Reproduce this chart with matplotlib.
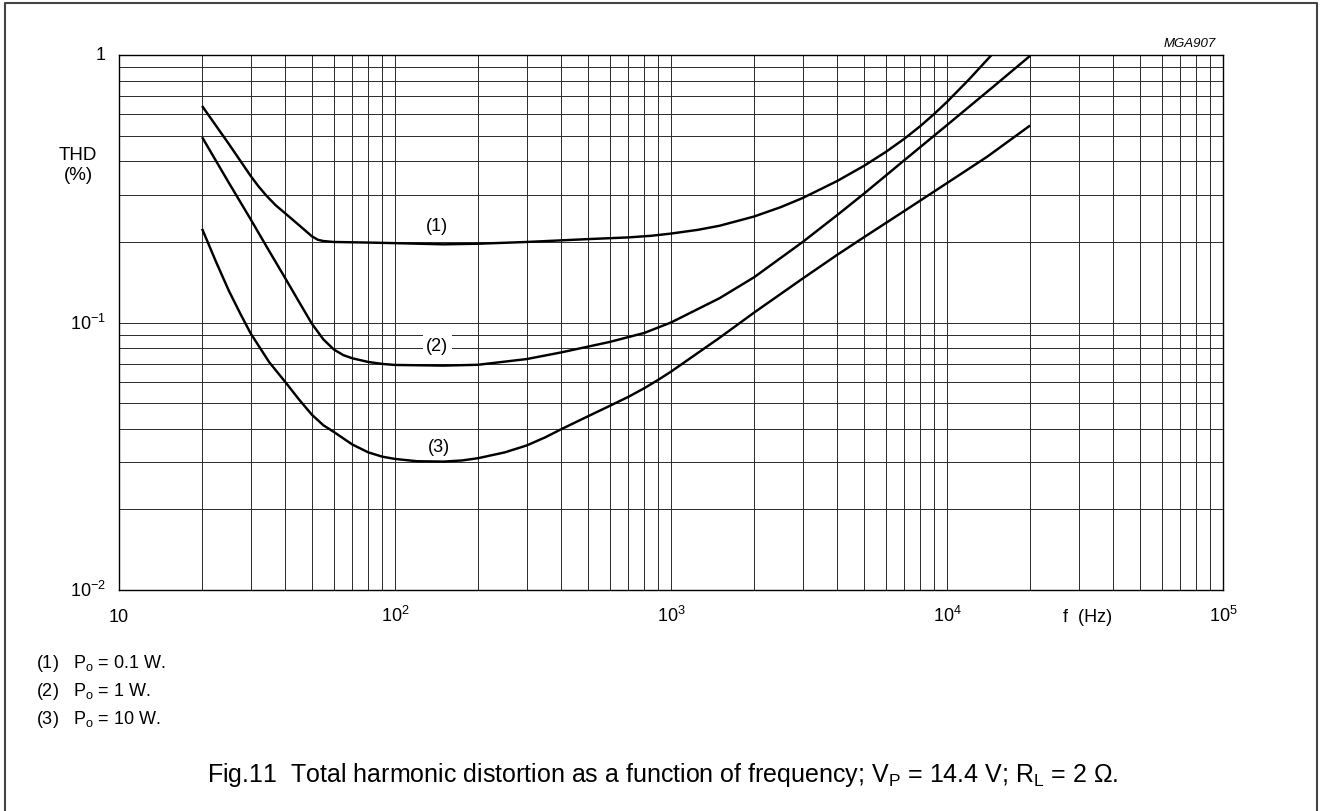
import matplotlib
matplotlib.use('Agg')
import matplotlib.pyplot as plt
from matplotlib.lines import Line2D

plt.rcParams['font.family'] = ['Liberation Sans', 'DejaVu Sans']
plt.rcParams['mathtext.fontset'] = 'custom'
plt.rcParams['mathtext.rm'] = 'Liberation Sans'
plt.rcParams['mathtext.it'] = 'Liberation Sans:italic'

# curve (1) Po = 0.1 W
f1 = [20, 25, 30, 32, 34.3, 37, 40, 45, 50, 52.5, 55, 60, 80, 100, 150, 200, 300, 500,
      700, 850, 1000, 1250, 1500, 2000, 2500, 3000, 4000, 5000, 6000, 7000, 8000, 9000,
      10000, 12000, 14500]
thd1 = [0.645, 0.465, 0.353, 0.323, 0.297, 0.274, 0.256, 0.2307, 0.210, 0.2039, 0.2016,
        0.2, 0.199, 0.198, 0.196, 0.197, 0.2, 0.205, 0.208, 0.211, 0.215, 0.222, 0.230,
        0.249, 0.270, 0.292, 0.338, 0.385, 0.434, 0.486, 0.542, 0.603, 0.668, 0.809, 1.0]

# curve (2) Po = 1 W
f2 = [20, 25, 30, 35, 40, 45, 50, 55, 60, 65, 70, 80, 90, 100, 150, 200, 300, 400,
      600, 800, 1000, 1500, 2000, 3000, 4000, 5000, 7000, 10000, 15000, 20000]
thd2 = [0.493, 0.333, 0.243, 0.185, 0.1466, 0.119, 0.0989, 0.0865, 0.0793, 0.0755,
        0.0735, 0.0712, 0.0700, 0.0694, 0.0690, 0.0695, 0.073, 0.0773, 0.0846, 0.0914,
        0.1, 0.1233, 0.1476, 0.2, 0.252, 0.303, 0.404, 0.547, 0.774, 0.993]

# curve (3) Po = 10 W
f3 = [20, 22.5, 25, 27.5, 30, 35, 40, 45, 50, 55, 60, 70, 80, 90, 100, 120, 150, 175,
      200, 250, 300, 350, 400, 500, 600, 700, 800, 900, 1000, 1500, 2000, 3000, 4000,
      5000, 7000, 10000, 14000, 20000]
thd3 = [0.224, 0.168, 0.1315, 0.108, 0.091, 0.0711, 0.0600, 0.0514, 0.0452, 0.0413,
        0.039, 0.035, 0.0327, 0.0315, 0.0309, 0.0303, 0.0302, 0.0305, 0.0311, 0.0327,
        0.0347, 0.0372, 0.0399, 0.0446, 0.0488, 0.0527, 0.0568, 0.0611, 0.0655, 0.0877,
        0.1089, 0.146, 0.179, 0.2083, 0.261, 0.332, 0.417, 0.545]

curve_labels = ['(1)', '(2)', '(3)']
label_pos = [(142, 0.2296), (142, 0.0817), (144, 0.0345)]

xtick_vals = [10, 100, 1000, 10000, 100000]
xtick_text = ['10', r'$\mathregular{10^2}$', r'$\mathregular{10^3}$',
              r'$\mathregular{10^4}$', r'$\mathregular{10^5}$']
ytick_vals = [1, 0.1, 0.01]
ytick_text = ['1', r'$\mathregular{10^{-1}}$', r'$\mathregular{10^{-2}}$']

notes = [r'(1)   P$_\mathregular{o}$ = 0.1 W.',
         r'(2)   P$_\mathregular{o}$ = 1 W.',
         r'(3)   P$_\mathregular{o}$ = 10 W.']
caption = (r'Fig.11  Total harmonic distortion as a function of frequency; '
           r'V$_\mathregular{P}$ = 14.4 V; R$_\mathregular{L}$ = 2 $\Omega$.')

W, H = 1326, 812
fig = plt.figure(figsize=(W / 100, H / 100), dpi=100)
ax = fig.add_axes([119 / W, 1 - 591 / H, (1223 - 119) / W, (591 - 56) / H])
ax.set_xscale('log')
ax.set_yscale('log')
ax.set_xlim(10, 1e5)
ax.set_ylim(0.01, 1)

# grid at every integer multiple in each decade
gc = '#2a2a2a'
for d in [10, 100, 1000, 10000]:
    for m in range(1, 10):
        ax.axvline(d * m, color=gc, lw=0.7, zorder=1)
for d in [0.01, 0.1]:
    for m in range(1, 10):
        ax.axhline(d * m, color=gc, lw=0.7, zorder=1)

for f, t in [(f1, thd1), (f2, thd2), (f3, thd3)]:
    ax.plot(f, t, color='black', lw=1.75, solid_capstyle='butt',
            solid_joinstyle='round', zorder=3)

for lab, (x, y) in zip(curve_labels, label_pos):
    ax.text(x, y, lab, ha='center', va='center', fontsize=13, zorder=4,
            bbox=dict(facecolor='white', edgecolor='none', pad=2.5))

ax.set_xticks([])
ax.set_yticks([])
ax.minorticks_off()
for s in ax.spines.values():
    s.set_linewidth(1.0)

xt = ax.get_xaxis_transform()
for v, t in zip(xtick_vals, xtick_text):
    ax.text(v, -0.058, t, transform=xt, ha='center', va='baseline', fontsize=13)
ax.text(10 ** 4.51, -0.058, 'f  (Hz)', transform=xt, ha='center', va='baseline', fontsize=13)

yt = ax.get_yaxis_transform()
for v, t in zip(ytick_vals, ytick_text):
    ax.text(-0.012, v, t, transform=yt, ha='right', va='center', fontsize=13)

fig.text(78 / W, 1 - 155 / H, 'THD', ha='center', va='center', fontsize=13.5)
fig.text(78 / W, 1 - 176 / H, '(%)', ha='center', va='center', fontsize=13.5)
fig.text(1216 / W, 1 - 44 / H, 'MGA907', ha='right', va='center', fontsize=9.5, style='italic')

for i, n in enumerate(notes):
    fig.text(36 / W, 1 - (668 + 28 * i) / H, n, ha='left', va='baseline', fontsize=13)

fig.text(207 / W, 1 - 782 / H, caption, ha='left', va='baseline', fontsize=18)

# outer frame (open at the bottom)
fx0, fx1, fy = 5 / W, 1317 / W, 1 - 4 / H
frame = Line2D([fx0, fx0, fx1, fx1], [0, fy, fy, 0], transform=fig.transFigure,
               color='#444444', lw=1.5)
fig.add_artist(frame)

fig.savefig('out.png', dpi=100)
